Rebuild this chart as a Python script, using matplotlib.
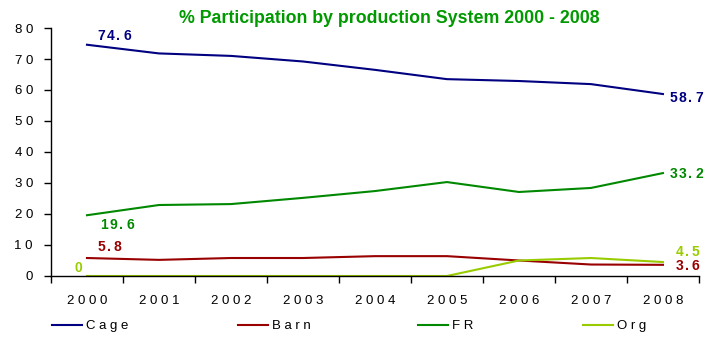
import matplotlib
matplotlib.use("Agg")
import matplotlib.pyplot as plt
import numpy as np

plt.rcParams['font.family'] = 'Liberation Sans'
plt.rcParams['mathtext.fontset'] = 'custom'
plt.rcParams['mathtext.rm'] = 'Liberation Sans'
plt.rcParams['mathtext.bf'] = 'Liberation Sans:bold'
plt.rcParams['mathtext.default'] = 'bf'

years = ["2000", "2001", "2002", "2003", "2004", "2005", "2006", "2007", "2008"]
cage = [74.6, 71.8, 71.0, 69.2, 66.5, 63.5, 62.9, 61.9, 58.7]
barn = [5.8, 5.2, 5.8, 5.8, 6.4, 6.4, 5.0, 3.7, 3.6]
fr = [19.6, 22.9, 23.2, 25.2, 27.4, 30.3, 27.1, 28.4, 33.2]
org = [0, 0, 0, 0, 0, 0, 5.0, 5.8, 4.5]

series_names = ["Cage", "Barn", "FR", "Org"]
colors = ["#000080", "#990000", "#008800", "#99CC00"]


def spaced(s):
    """Wide tracking: one space between characters."""
    return " ".join(str(s))


def tight_spaced(s):
    """Narrow tracking via small mathtext spaces (bold Liberation Sans)."""
    return "$" + r"\hspace{0.1}".join(str(s)) + "$"


fig = plt.figure(figsize=(7.06, 3.44), dpi=100)
ax = fig.add_axes([0.0722, 0.1977, 0.9178, 0.7209])

x = np.arange(len(years))
lines = []
for vals, name, c in zip([cage, barn, fr, org], series_names, colors):
    ln, = ax.plot(x, vals, color=c, lw=1.5, label=spaced(name))
    lines.append(ln)

ax.set_xlim(-0.5, len(years) - 0.5)
ax.set_ylim(0, 80)
yt = np.arange(0, 81, 10)
ax.set_yticks(yt)
ax.set_yticklabels([spaced(v) for v in yt])
ax.set_xticks(np.arange(-0.5, len(years), 1.0))
ax.set_xticklabels([])
ax.set_xticks(x, minor=True)
ax.set_xticklabels([spaced(y) for y in years], minor=True)
ax.tick_params(axis='x', which='major', length=5, width=1, direction='out')
ax.tick_params(axis='x', which='minor', length=0, pad=13.5, labelsize=9.5)
ax.tick_params(axis='y', length=5, width=1, direction='out', labelsize=9.5, pad=8)
for s in ['top', 'right']:
    ax.spines[s].set_visible(False)
for s in ['left', 'bottom']:
    ax.spines[s].set_linewidth(1)

# value labels at the first and last points
lbl = dict(fontsize=10, textcoords='offset points', va='center')
ax.annotate(tight_spaced(cage[0]), (0, cage[0]), xytext=(7.5, 6), color=colors[0], **lbl)
ax.annotate(tight_spaced(cage[-1]), (8, cage[-1]), xytext=(4.5, -2.5), color=colors[0], **lbl)
ax.annotate(tight_spaced(fr[0]), (0, fr[0]), xytext=(9.5, -7), color=colors[2], **lbl)
ax.annotate(tight_spaced(fr[-1]), (8, fr[-1]), xytext=(4.5, -0.5), color=colors[2], **lbl)
ax.annotate(tight_spaced(barn[0]), (0, barn[0]), xytext=(7, 8), color=colors[1], **lbl)
ax.annotate(tight_spaced(barn[-1]), (8, barn[-1]), xytext=(8.5, -1), color=colors[1], **lbl)
ax.annotate(tight_spaced(org[0]), (0, org[0]), xytext=(-6, 5.5), color=colors[3], ha='center', **lbl)
ax.annotate(tight_spaced(org[-1]), (8, org[-1]), xytext=(8.5, 7.5), color=colors[3], **lbl)

fig.text(0.552, 0.972, "% Participation by production System 2000 - 2008",
         ha='center', va='top', color="#009900", fontsize=12.8, fontweight='bold')

# one legend entry per series, spread along the bottom
legend_x = [52, 238, 418, 583]
for ln, lx in zip(lines, legend_x):
    fig.legend(handles=[ln], loc='center left', bbox_to_anchor=(lx / 706, 1 - 326 / 344),
               frameon=False, fontsize=9.5, handlelength=2.3, handletextpad=0.3,
               borderpad=0, borderaxespad=0)

fig.savefig("out.png", dpi=100)
